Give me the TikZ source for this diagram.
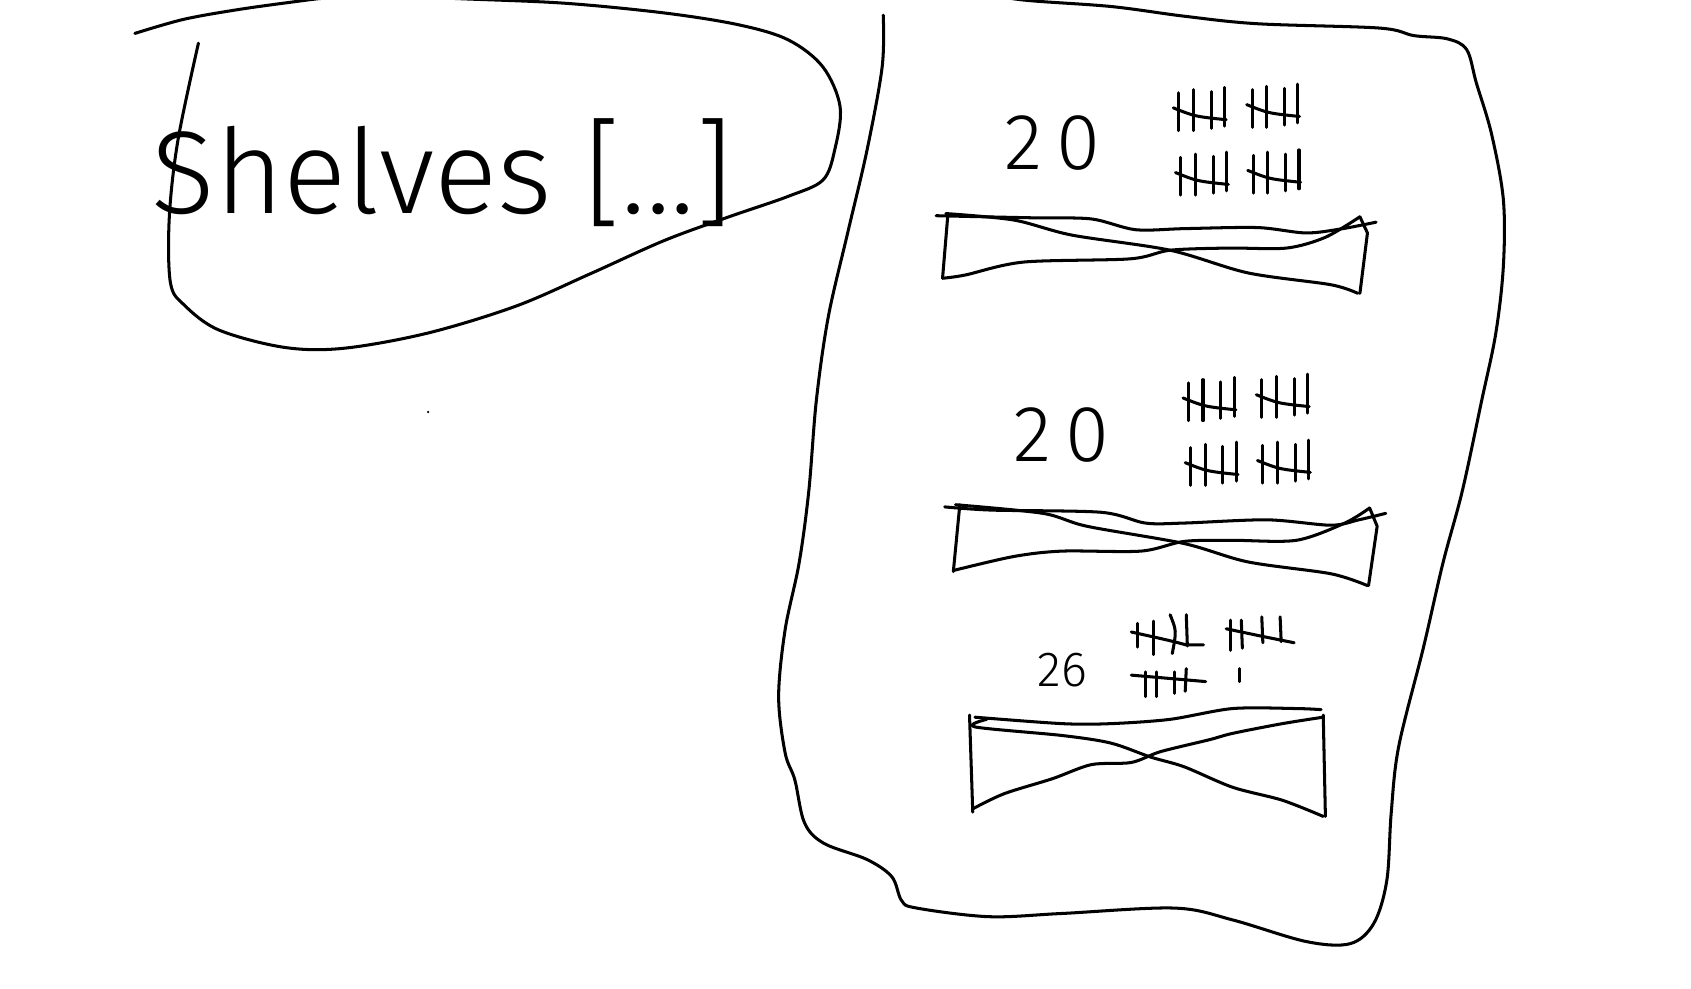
\documentclass[tikz,border=0pt]{standalone}
\usepackage{fontspec}
\usepackage{tikz}
\newfontfamily\sketchfont{Fira Sans}[UprightFont=* Light]

% Tally of five: four strokes and one crossing stroke
\newcommand{\tallyfive}[2]{%
  \foreach \dx/\dt/\db in {0/3/38, 13.5/0/38, 30/2/36, 42.5/-2/34}
    \draw[ink] (#1+\dx,#2+\dt) -- (#1+\dx,#2+\db);
  \draw[ink] (#1-5,#2+17) .. controls (#1+15,#2+25) .. (#1+44,#2+28);
}

\begin{document}
\begin{tikzpicture}[x=0.01cm, y=-0.01cm,
  ink/.style={draw=inkBlack, line width=0.8pt, line cap=round, line join=round},
  handtext/.style={text=inkBlack, inner sep=0pt}]

% Colori
\definecolor{inkBlack}{HTML}{000000}

% Foglio
\useasboundingbox (0,0) rectangle (1568,917);
\clip (0,0) rectangle (1568,917);

% Nuvola con il titolo
\draw[ink] plot[smooth, tension=0.55] coordinates {(125,31) (170,18) (220,9) (270,2) (304,-2)
  (350,-4) (432,-1) (524,3) (616,12) (685,23) (731,37) (763,62) (779,99) (774,139) (763,167)
  (731,182) (676,201) (616,223) (547,254) (478,284) (396,309) (318,323) (263,322) (203,306)
  (171,283) (158,262) (157,201) (165,130) (184,40)};
\node[handtext, font=\sketchfont\fontsize{31}{31}\selectfont] (shelves) at (410,160) {Shelves [...]};
\fill[inkBlack] (397,382) circle (1.2);

% Pannello degli scaffali
\draw[ink] plot[smooth, tension=0.55] coordinates {(819,14) (818,62) (804,139) (786,216)
  (768,294) (757,371) (750,455) (741,522) (728,584) (722,646) (728,698) (737,723) (746,763)
  (764,782) (804,797) (827,813) (836,835) (850,842) (917,850) (985,847) (1089,842) (1143,853)
  (1211,873) (1252,875) (1274,856) (1286,816) (1290,754) (1297,692) (1320,600) (1338,522)
  (1356,455) (1374,371) (1387,309) (1394,247) (1394,185) (1383,124) (1369,77) (1360,46)
  (1342,36) (1311,33) (1279,26) (1166,22) (1098,15) (1030,6) (949,0) (900,-8)};

% Scaffale 1
\node[handtext, font=\sketchfont\fontsize{21}{21}\selectfont] (countA) at (976,133) {2\kern0.18em0};
\tallyfive{1093}{83}
\tallyfive{1161}{80}
\tallyfive{1095}{143}
\tallyfive{1162}{141}
\draw[ink] plot[smooth, tension=0.5] coordinates {(868,200) (912,201) (960,202) (1012,203)
  (1053,213) (1098,212) (1166,211) (1211,216) (1245,212) (1276,206)};
\draw[ink] (879,198) -- (874,258);
\draw[ink] plot[smooth, tension=0.5] coordinates {(874,258) (895,255) (949,243) (1048,240)
  (1085,232) (1139,230) (1193,230) (1229,220) (1261,201)};
\draw[ink] plot[smooth, tension=0.5] coordinates {(877,198) (940,204) (994,218) (1085,232)
  (1157,253) (1234,264) (1259,272)};
\draw[ink] (1261,201) -- (1268,216) -- (1261,272);

% Scaffale 2
\node[handtext, font=\sketchfont\fontsize{21}{21}\selectfont] (countB) at (984,403) {2\kern0.18em0};
\tallyfive{1102}{352}
\tallyfive{1170}{349}
\tallyfive{1104}{412}
\tallyfive{1171}{410}
\draw[ink] plot[smooth, tension=0.5] coordinates {(876,470) (920,473) (1021,475) (1062,485)
  (1098,485) (1175,482) (1234,487) (1260,482) (1285,476)};
\draw[ink] (890,468) -- (884,530);
\draw[ink] plot[smooth, tension=0.5] coordinates {(884,529) (940,516) (985,511) (1058,511)
  (1098,502) (1143,501) (1202,501) (1247,485) (1270,471)};
\draw[ink] plot[smooth, tension=0.5] coordinates {(886,468) (967,476) (1008,488) (1098,504)
  (1157,521) (1234,532) (1268,543)};
\draw[ink] (1270,471) -- (1277,488) -- (1269,543);

% Scaffale 3
\node[handtext, font=\sketchfont\fontsize{13}{13}\selectfont] (countC) at (985,621) {26};
\draw[ink] (1055,578) -- (1055,600);
\draw[ink] (1070,576) -- (1070,607);
\draw[ink] (1085,570) .. controls (1091,585) .. (1087,606);
\draw[ink] (1100,570) -- (1101,599);
\draw[ink] (1049,586) .. controls (1085,594) .. (1100,598) -- (1116,598);
\draw[ink] (1141,575) -- (1141,603);
\draw[ink] (1151,575) -- (1152,601);
\draw[ink] (1170,572) -- (1171,596);
\draw[ink] (1187,572) -- (1188,595);
\draw[ink] (1137,583) .. controls (1170,590) .. (1200,596);
\draw[ink] (1062,623) -- (1062,646);
\draw[ink] (1072,623) -- (1072,646);
\draw[ink] (1089,623) -- (1089,643);
\draw[ink] (1100,620) -- (1099,641);
\draw[ink] (1049,626) -- (1118,632);
\draw[ink] (1149,620) -- (1149,632);
\draw[ink] plot[smooth, tension=0.5] coordinates {(904,665) (985,671) (1030,671) (1085,667)
  (1143,657) (1202,657) (1225,658)};
\draw[ink] (899,663) -- (902,753);
\draw[ink] plot[smooth, tension=0.5] coordinates {(915,667) (904,674) (985,682) (1030,689)
  (1067,702) (1098,711) (1143,730) (1189,742) (1227,757)};
\draw[ink] plot[smooth, tension=0.5] coordinates {(902,750) (931,736) (976,722) (1012,709)
  (1049,707) (1076,697) (1121,686) (1143,680) (1189,671) (1227,665)};
\draw[ink] (1227,663) -- (1229,757);

\end{tikzpicture}
\end{document}
